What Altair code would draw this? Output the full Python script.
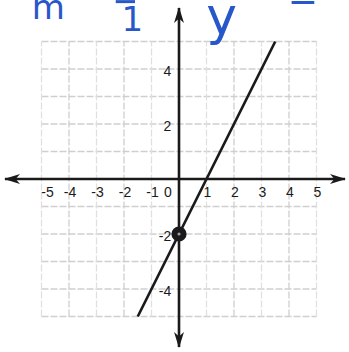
import altair as alt
import pandas as pd

# ---- values -------------------------------------------------------------
x_ticks = [-5, -4, -3, -2, -1, 0, 1, 2, 3, 4, 5]
y_ticks = [4, 2, -2, -4]
grid_vals = [-5, -4, -3, -2, -1, 1, 2, 3, 4, 5]
line_x = [-1.5, 3.5]
line_y = [-5, 5]          # y = 2x - 2
point_x = [0]
point_y = [-2]

# ---- layout ---------------------------------------------------------------
W, H = 349, 352
UNIT = 27.5               # pixels per unit
OX, OY = 179, 179         # pixel position of the origin
XDOM = [-OX / UNIT, (W - OX) / UNIT]
YDOM = [-(H - OY) / UNIT, OY / UNIT]
INK = "#1a1a1a"
BLUE = "#2857c9"
GRID = "#cfcfcf"

xs = alt.Scale(domain=XDOM, nice=False, zero=False)
ys = alt.Scale(domain=YDOM, nice=False, zero=False)


def X(f, t="Q"):
    return alt.X(f"{f}:{t}", scale=xs, axis=None)


def Y(f, t="Q"):
    return alt.Y(f"{f}:{t}", scale=ys, axis=None)


grid_df = pd.DataFrame({"v": grid_vals, "lo": -5, "hi": 5,
                        "odd": [v % 2 != 0 for v in grid_vals]})

grid_h = alt.Chart(grid_df).mark_rule(color=GRID, strokeWidth=1.3, strokeDash=[7, 2]).encode(
    y=Y("v"), x=X("lo"), x2="hi")
grid_v = alt.Chart(grid_df).mark_rule(strokeWidth=1.3, strokeDash=[7, 2]).encode(
    x=X("v"), y=Y("lo"), y2="hi",
    color=alt.condition("datum.odd", alt.value("#e0e0e0"), alt.value(GRID)))

# axes with arrowheads at both ends
ax_len = 14 / UNIT
x_lo, x_hi = XDOM[0] + 5 / UNIT, XDOM[1] - 4 / UNIT
y_hi, y_lo = YDOM[1] - 8 / UNIT, YDOM[0] + 5 / UNIT
axes_df = pd.DataFrame({"x": [x_lo, 0], "x2": [x_hi, 0],
                        "y": [0, y_lo], "y2": [0, y_hi]})
axes = alt.Chart(axes_df).mark_rule(color=INK, strokeWidth=2.6).encode(
    x=X("x"), x2="x2", y=Y("y"), y2="y2")

half = ax_len / 2
arrow_df = pd.DataFrame({
    "x": [x_lo + half, x_hi - half, 0, 0],
    "y": [0, 0, y_hi - half, y_lo + half],
    "ang": [180, 0, 270, 90],
})
arrow_path = "M 1 0 L -1 -0.62 L -0.45 0 L -1 0.62 Z"
arrows = alt.Chart(arrow_df).mark_point(
    shape=arrow_path, filled=True, color=INK, opacity=1, size=16 * 16).encode(
    x=X("x"), y=Y("y"), angle=alt.Angle("ang:Q", scale=None))

# the graphed line
line_df = pd.DataFrame({"x": line_x, "y": line_y})
line = alt.Chart(line_df).mark_line(color=INK, strokeWidth=2.6).encode(
    x=X("x"), y=Y("y"))

# tick labels (the 0 sits left of the y-axis, -5 nudged inward)
shift_px = {-5: 6, 0: -11}
xl_df = pd.DataFrame({"v": x_ticks, "t": [str(v) for v in x_ticks]})
xl_df["lx"] = [v + shift_px.get(v, 1) / UNIT for v in x_ticks]
xl_df["yy"] = -0.52
x_labels = alt.Chart(xl_df).mark_text(
    font="Liberation Sans", fontSize=14, color=INK, baseline="middle").encode(
    x=X("lx"), y=Y("yy"), text="t:N")

yl_df = pd.DataFrame({"v": y_ticks, "t": [str(v) for v in y_ticks], "xx": -0.28})
yl_df["ly"] = [v - 0.1 for v in y_ticks]
y_labels = alt.Chart(yl_df).mark_text(
    font="Liberation Sans", fontSize=14, color=INK, align="right", baseline="middle").encode(
    x=X("xx"), y=Y("ly"), text="t:N")

# y-intercept point
pt_df = pd.DataFrame({"x": point_x, "y": point_y})
point = alt.Chart(pt_df).mark_point(filled=True, color=INK, opacity=1, size=230).encode(
    x=X("x"), y=Y("y"))
shine = alt.Chart(pt_df).mark_point(filled=True, color="#9aa0b0", opacity=1, size=10).encode(
    x=X("x"), y=Y("y"))

# handwritten note across the top
notes = pd.DataFrame({
    "t": ["m", "1", "y", "="],
    "x": [-4.75, -1.7, 1.55, 4.5],
    "y": [6.2, 5.75, 5.85, 6.55],
    "fs": [34, 34, 52, 36],
})
note_text = alt.Chart(notes).mark_text(
    font="DejaVu Sans", fontWeight="normal", color=BLUE, baseline="middle").encode(
    x=X("x"), y=Y("y"), text="t:N", size=alt.Size("fs:Q", scale=None))
bar_df = pd.DataFrame({"x": [-2.3], "x2": [-1.6], "y": [6.45]})
note_bar = alt.Chart(bar_df).mark_rule(color=BLUE, strokeWidth=3).encode(
    x=X("x"), x2="x2", y=Y("y"))

chart = alt.layer(
    grid_h, grid_v, axes, arrows, line, x_labels, y_labels, point, shine,
    note_text, note_bar
).properties(
    width=W, height=H, padding=0, autosize=alt.AutoSizeParams(type="none"),
    background="white"
).configure_view(stroke=None)

chart.save("out.html", embed_options={"renderer": "svg", "actions": False})
